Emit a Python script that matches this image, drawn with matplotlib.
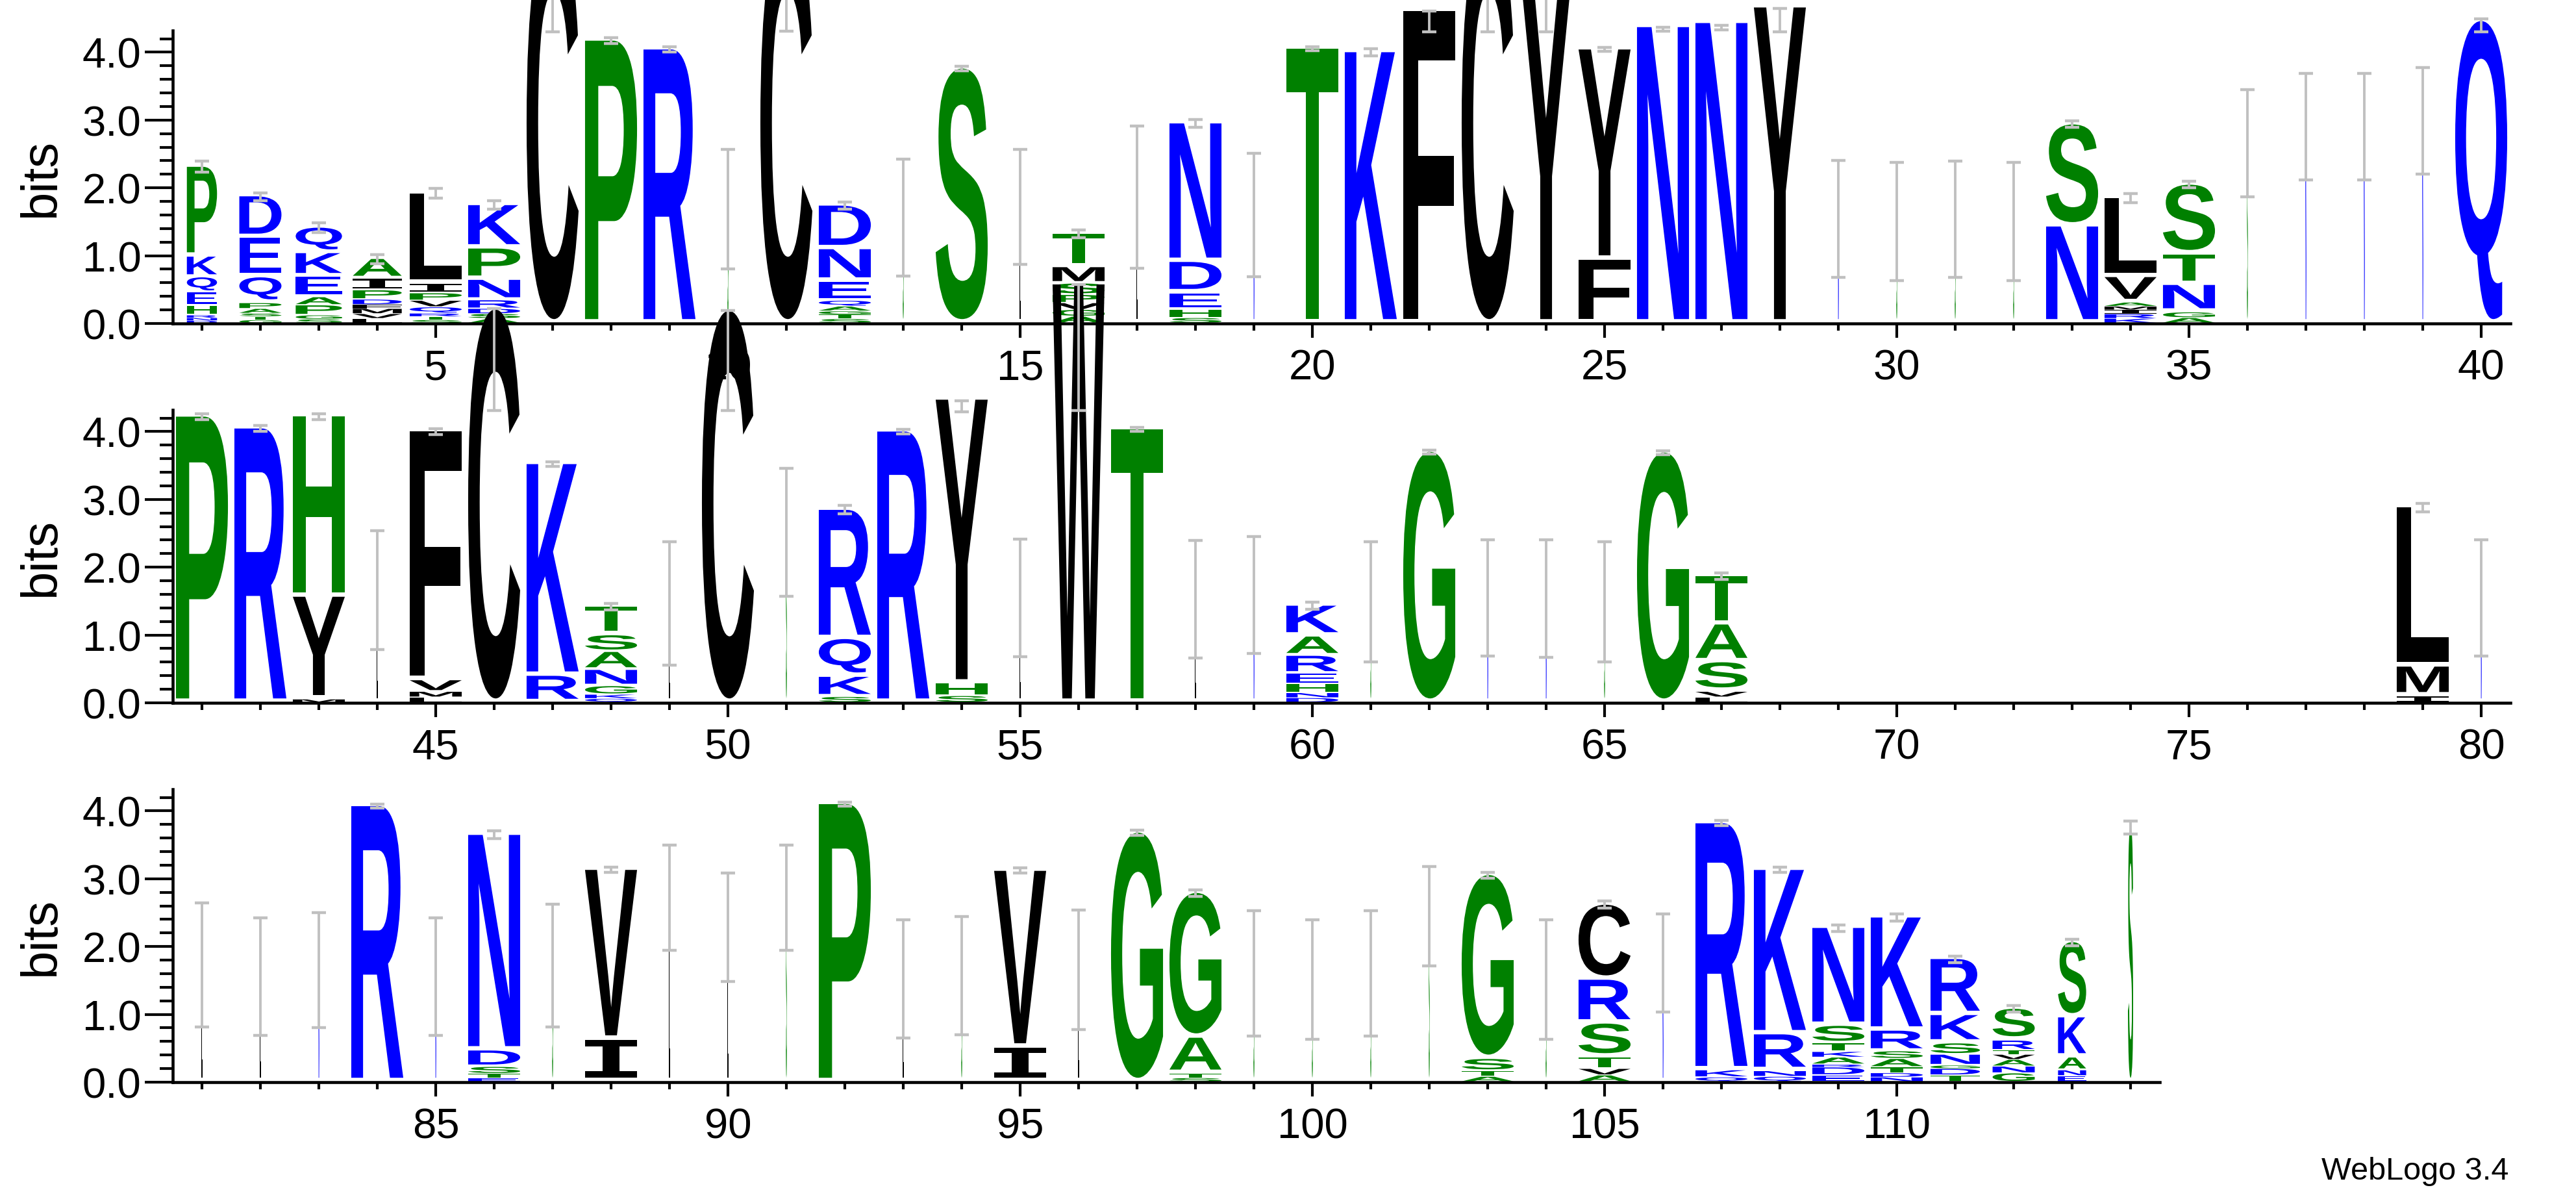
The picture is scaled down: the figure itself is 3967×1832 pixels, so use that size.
import matplotlib
matplotlib.use('Agg')
import matplotlib.pyplot as plt
from matplotlib.textpath import TextPath
from matplotlib.font_manager import FontProperties
from matplotlib.patches import PathPatch
from matplotlib.transforms import Affine2D
from matplotlib.ticker import FixedLocator, MultipleLocator, NullFormatter

plt.rcParams['font.family'] = ['Liberation Sans', 'DejaVu Sans']

# ---- data: letters stacked bottom -> top, with their heights in bits ----
stack_letters = [
    # 1-40
    "DNRHEQKP", "GTSAPQED", "SGPAEKQ", "LVMFDPIA", "STRQVPIL", "ASDRNPK", "C", "P", "R", "S",
    "C", "STGAQEND", "S", "S", "L", "AGVPSMT", "L", "SHEDN", "N", "T",
    "K", "F", "C", "Y", "FY", "N", "N", "Y", "N", "S",
    "S", "S", "NS", "KRIMAVL", "AGNTS", "S", "N", "N", "N", "Q",
    # 41-80
    "P", "R", "MYH", "L", "LMVF", "C", "RK", "QKGNAST", "L", "C",
    "S", "SKQR", "R", "SHY", "L", "W", "T", "L", "N", "DNHERAK",
    "S", "G", "N", "N", "S", "G", "LVSAT", "", "", "",
    "", "", "", "", "", "", "", "", "IML", "N",
    # 81-114
    "L", "L", "N", "R", "N", "ETSDN", "S", "IV", "L", "L",
    "S", "P", "L", "S", "IV", "L", "G", "STAG", "S", "S",
    "S", "S", "ATSG", "S", "AVTSRC", "N", "QKR", "QNRK", "EDRAKTSN", "NDTASRK",
    "TDGNSKR", "GNAVTRS", "ENAKS", "S",
]

stack_bits = [
    # 1-40
    [0.04, 0.04, 0.04, 0.14, 0.195, 0.225, 0.305, 1.325],
    [0.05, 0.05, 0.047, 0.068, 0.085, 0.38, 0.58, 0.615],
    [0.06, 0.06, 0.147, 0.12, 0.307, 0.343, 0.376],
    [0.07, 0.07, 0.076, 0.058, 0.078, 0.137, 0.171, 0.291],
    [0.05, 0.05, 0.047, 0.092, 0.096, 0.11, 0.137, 1.334],
    [0.07, 0.07, 0.076, 0.126, 0.301, 0.462, 0.64],
    [5.8], [4.17], [4.04], [1.69],
    [5.8],
    [0.065, 0.065, 0.05, 0.07, 0.085, 0.281, 0.479, 0.643],
    [1.56], [3.76], [1.72],
    [0.1, 0.1, 0.1, 0.12, 0.17, 0.24, 0.49],
    [1.86],
    [0.08, 0.12, 0.245, 0.462, 2.043],
    [1.6], [4.05],
    [4.0], [4.61], [5.8], [5.2], [0.94, 3.10], [4.37], [4.43], [4.66], [1.54], [1.50],
    [1.53], [1.50],
    [1.43, 1.505],
    [0.07, 0.067, 0.061, 0.052, 0.058, 0.376, 1.167],
    [0.08, 0.084, 0.404, 0.452, 1.026],
    [2.66], [2.9], [2.9], [2.98], [4.46],
    # 41-80
    [4.22], [4.045], [0.05, 1.514, 2.656], [1.67],
    [0.08, 0.083, 0.17, 3.667],
    [5.8], [0.398, 3.122],
    [0.06, 0.06, 0.126, 0.239, 0.265, 0.246, 0.424],
    [1.47], [5.78],
    [2.51], [0.087, 0.296, 0.557, 1.905], [4.0], [0.1, 0.184, 4.186], [1.55], [6.17], [4.03], [1.52], [1.59],
    [0.07, 0.074, 0.133, 0.151, 0.265, 0.284, 0.455],
    [1.49], [3.70], [1.55], [1.53], [1.49], [3.69],
    [0.08, 0.083, 0.435, 0.557, 0.712],
    [], [], [],
    [], [], [], [], [], [], [], [],
    [0.095, 0.439, 2.349], [1.55],
    # 81-114
    [1.72], [1.55], [1.65], [4.07], [1.55],
    [0.06, 0.06, 0.105, 0.242, 3.179],
    [1.71], [0.626, 2.504], [2.72], [2.28],
    [2.72], [4.1], [1.52], [1.57], [0.509, 2.607], [1.66], [3.68],
    [0.06, 0.061, 0.534, 2.135],
    [1.6], [1.51],
    [1.6], [2.45],
    [0.08, 0.083, 0.179, 2.712],
    [1.51],
    [0.1, 0.096, 0.167, 0.501, 0.646, 1.106],
    [1.75],
    [0.07, 0.105, 3.642],
    [0.08, 0.083, 0.542, 2.424],
    [0.1, 0.117, 0.042, 0.104, 0.083, 0.126, 0.258, 1.444],
    [0.07, 0.063, 0.084, 0.125, 0.113, 0.304, 1.669],
    [0.1, 0.096, 0.05, 0.159, 0.167, 0.417, 0.826],
    [0.13, 0.1, 0.1, 0.075, 0.062, 0.146, 0.468],
    [0.09, 0.085, 0.188, 0.592, 1.11],
    [3.76],
]

# fraction of sequences occupying each column (sets letter width)
col_width = [
    0.58, 0.81, 0.89, 0.94, 1, 1, 1, 1, 1, 0.02,
    1, 1, 0.02, 1, 0.02, 1, 0.02, 1, 0.02, 1,
    1, 1, 1, 1, 1, 1, 1, 1, 0.02, 0.02,
    0.02, 0.02, 1, 1, 1, 0.02, 0.02, 0.02, 0.02, 1,
    1, 1, 1, 0.02, 1, 1, 1, 1, 0.02, 1,
    0.02, 1, 1, 1, 0.02, 1, 1, 0.02, 0.02, 1,
    0.02, 1, 0.02, 0.02, 0.02, 1, 1, 0, 0, 0,
    0, 0, 0, 0, 0, 0, 0, 0, 1, 0.02,
    0.02, 0.02, 0.02, 1, 0.02, 1, 0.02, 1, 0.02, 0.02,
    0.02, 1, 0.02, 0.02, 1, 0.02, 1, 1, 0.02, 0.02,
    0.02, 0.02, 1, 0.02, 1, 0.02, 1, 1, 1, 1,
    0.95, 0.81, 0.54, 0.1,
]

err_low = [
    2.23, 1.81, 1.34, 0.88, 1.85, 1.69, 4.30, 4.13, 4.00, 0.80,
    4.31, 1.69, 0.70, 3.73, 0.87, 1.26, 0.81, 2.89, 0.69, 4.02,
    3.95, 4.30, 4.30, 4.30, 4.01, 4.31, 4.33, 4.30, 0.68, 0.63,
    0.68, 0.63, 2.89, 1.78, 2.00, 1.87, 2.12, 2.12, 2.20, 4.30,
    4.18, 4.00, 4.18, 0.79, 3.96, 4.31, 3.49, 1.37, 0.56, 4.31,
    1.57, 2.79, 3.97, 4.29, 0.68, 4.31, 4.00, 0.66, 0.73, 1.38,
    0.60, 3.67, 0.69, 0.67, 0.60, 3.66, 1.82, None, None, None,
    None, None, None, None, None, None, None, None, 2.82, 0.69,
    0.81, 0.69, 0.80, 4.04, 0.69, 3.59, 0.81, 3.09, 1.94, 1.48,
    1.94, 4.07, 0.65, 0.70, 3.08, 0.78, 3.64, 2.74, 0.68, 0.63,
    0.68, 1.71, 3.01, 0.63, 2.57, 1.03, 3.78, 3.09, 2.22, 2.38,
    1.76, 1.03, 2.01, 3.66,
]

err_high = [
    2.39, 1.93, 1.48, 1.02, 1.99, 1.81, 5.80, 4.21, 4.08, 2.57,
    5.80, 1.79, 2.42, 3.79, 2.57, 1.38, 2.91, 3.01, 2.51, 4.08,
    4.05, 4.61, 5.80, 5.20, 4.07, 4.37, 4.40, 4.65, 2.40, 2.38,
    2.39, 2.38, 2.99, 1.92, 2.10, 3.45, 3.69, 3.69, 3.77, 4.49,
    4.26, 4.09, 4.26, 2.54, 4.04, 5.81, 3.55, 1.47, 2.38, 5.79,
    3.46, 2.91, 4.03, 4.45, 2.41, 6.17, 4.06, 2.39, 2.45, 1.48,
    2.38, 3.73, 2.40, 2.40, 2.38, 3.72, 1.92, None, None, None,
    None, None, None, None, None, None, None, None, 2.94, 2.40,
    2.64, 2.42, 2.50, 4.10, 2.42, 3.71, 2.62, 3.17, 3.50, 3.08,
    3.50, 4.13, 2.39, 2.44, 3.16, 2.54, 3.72, 2.84, 2.53, 2.39,
    2.53, 3.18, 3.09, 2.39, 2.67, 2.48, 3.86, 3.17, 2.32, 2.48,
    1.86, 1.13, 2.11, 3.85,
]

row_ranges = [(1, 40), (41, 80), (81, 114)]

# hydrophobicity colour scheme
colour_of = {}
for c in "RKDENQ":
    colour_of[c] = '#0000FF'
for c in "SGHTAP":
    colour_of[c] = '#008000'
for c in "YVMCLFIW":
    colour_of[c] = '#000000'

W, H = 3967, 1833
fig = plt.figure(figsize=(W / 100, H / 100), dpi=100)

fp_logo = FontProperties(family='Liberation Sans', weight='bold')
fp_i = FontProperties(family='DejaVu Sans Mono', weight='bold')
glyphs = {}


def glyph(ch):
    if ch not in glyphs:
        glyphs[ch] = TextPath((0, 0), ch, size=1, prop=fp_i if ch == 'I' else fp_logo)
    return glyphs[ch]


def draw_letter(ax, ch, xc, y0, w, h):
    path = glyph(ch)
    bb = path.get_extents()
    gap = min(0.065, 0.15 * h)
    tr = (Affine2D().translate(-bb.x0, -bb.y0)
          .scale(w / bb.width, (h - gap) / bb.height)
          .translate(xc - w / 2, y0 + gap))
    ax.add_patch(PathPatch(tr.transform_path(path), facecolor=colour_of[ch],
                           edgecolor='none', clip_on=False, zorder=2))


grey = '#C0C0C0'
row_base_px = [499, 1083, 1667]
px_per_bit = 104.4
col_px = 90.0
left_px = 266

for r, (first, last) in enumerate(row_ranges):
    ax = fig.add_axes([left_px / W, 1 - row_base_px[r] / H,
                       (last - first + 1) * col_px / W, 4.32 * px_per_bit / H])
    ax.patch.set_visible(False)

    for pos in range(first, last + 1):
        i = pos - 1
        y = 0.0
        w = 0.89 * col_width[i]
        for ch, h in zip(stack_letters[i], stack_bits[i]):
            draw_letter(ax, ch, pos, y, w, h)
            y += h
        if err_low[i] is not None:
            ln = ax.vlines(pos, err_low[i], err_high[i], colors=grey, lw=2.8, zorder=3)
            ln.set_clip_on(False)
            cp = ax.hlines([err_low[i], err_high[i]], pos - 0.117, pos + 0.117,
                           colors=grey, lw=3.2, zorder=3)
            cp.set_clip_on(False)

    ax.set_xlim(first - 0.5, last + 0.5)
    ax.set_ylim(0, 4.32)
    for s in ('top', 'right'):
        ax.spines[s].set_visible(False)
    for s in ('left', 'bottom'):
        ax.spines[s].set_linewidth(3.3)

    ax.yaxis.set_major_locator(FixedLocator([0, 1, 2, 3, 4]))
    ax.yaxis.set_minor_locator(MultipleLocator(0.2))
    ax.set_yticklabels(['0.0', '1.0', '2.0', '3.0', '4.0'])
    ax.tick_params(axis='y', which='major', length=31, width=3, labelsize=47, pad=4)
    ax.tick_params(axis='y', which='minor', length=14.5, width=3)

    majors = [p for p in range(first, last + 1) if p % 5 == 0]
    ax.xaxis.set_major_locator(FixedLocator(majors))
    ax.xaxis.set_minor_locator(FixedLocator(list(range(first, last + 1))))
    ax.xaxis.set_minor_formatter(NullFormatter())
    ax.set_xticklabels([str(p) for p in majors])
    ax.tick_params(axis='x', which='major', length=16, width=3, labelsize=47, pad=12)
    ax.tick_params(axis='x', which='minor', length=8, width=3)

    ax.set_ylabel('bits', fontsize=56)
    ax.yaxis.set_label_coords(-0.046 * 40 / (last - first + 1), 0.5)

fig.text(0.974, 17 / H, 'WebLogo 3.4', ha='right', va='baseline', fontsize=35)

fig.savefig('out.png', dpi=100)
